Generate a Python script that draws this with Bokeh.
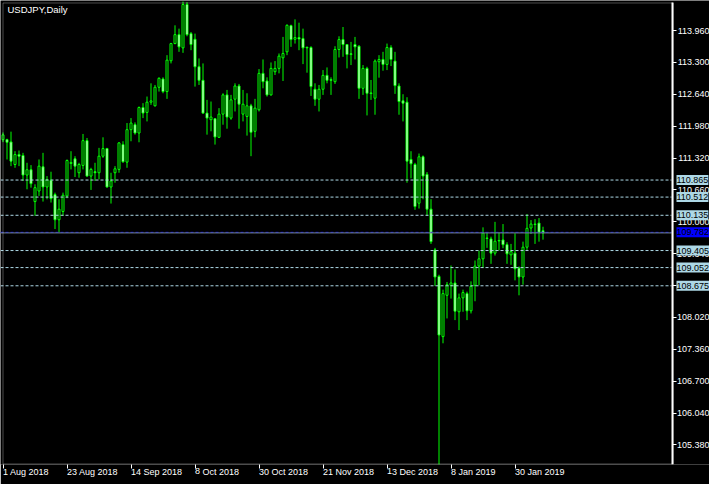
from bokeh.plotting import figure
from bokeh.models import Range1d, FixedTicker, Label, PrintfTickFormatter, BoxAnnotation
from bokeh.embed import file_html
from bokeh.resources import INLINE

# ---- data ----
title_text = "USDJPY,Daily"

opens = [111.70, 111.702, 111.654, 111.187, 111.393, 111.373, 110.968, 111.078, 110.419, 110.638,
         111.139, 110.721, 110.858, 110.563, 110.042, 110.214, 110.536, 111.208, 111.304, 111.016,
         111.167, 111.681, 110.947, 111.037, 111.016, 111.359, 111.517, 110.721, 111.016, 111.085,
         111.599, 111.236, 111.908, 112.011, 111.839, 112.367, 112.265, 112.477, 112.402, 112.786,
         112.957, 112.697, 113.335, 113.691, 113.876, 113.602, 114.501, 113.897, 113.780, 113.211,
         112.930, 112.251, 112.114, 112.134, 111.750, 112.230, 112.628, 112.148, 112.539, 112.813,
         112.230, 112.182, 112.402, 111.874, 112.320, 113.074, 112.916, 112.628, 113.108, 113.177,
         113.396, 113.520, 114.062, 113.780, 113.815, 113.794, 113.616, 113.609, 112.745, 112.539,
         112.745, 113.033, 112.944, 112.902, 113.568, 113.774, 113.671, 113.479, 113.671, 113.636,
         112.765, 113.177, 112.669, 112.560, 113.314, 113.362, 113.259, 113.609, 113.328, 112.813,
         112.505, 112.477, 111.291, 111.187, 110.385, 111.346, 110.982, 110.262, 109.418, 108.869,
         107.622, 108.478, 108.684, 108.733, 108.137, 108.425, 108.513, 108.157, 108.684, 109.083,
         109.233, 109.665, 109.645, 109.351, 109.614, 109.624, 109.527, 109.316, 109.351, 109.042,
         108.857, 109.474, 109.871, 109.953, 109.974, 109.816]
highs = [111.85, 111.72, 111.867, 111.462, 111.476, 111.428, 111.222, 111.174, 110.776, 111.291,
         111.428, 110.947, 111.037, 110.604, 110.467, 110.604, 111.291, 111.462, 111.359, 111.222,
         111.819, 111.736, 111.119, 111.222, 111.531, 111.750, 111.531, 111.016, 111.153, 111.647,
         111.668, 112.045, 112.148, 112.059, 112.388, 112.457, 112.594, 112.868, 112.834, 112.992,
         112.992, 113.451, 113.705, 114.069, 114.000, 114.56, 114.549, 113.931, 113.897, 113.383,
         113.280, 112.525, 112.491, 112.148, 112.354, 112.662, 112.731, 112.628, 112.868, 112.855,
         112.731, 112.662, 112.443, 112.546, 113.163, 113.362, 112.992, 113.300, 113.328, 113.486,
         113.829, 114.089, 114.082, 114.192, 114.123, 114.000, 113.623, 113.636, 112.868, 112.834,
         113.142, 113.197, 112.992, 113.636, 113.842, 114.034, 113.678, 113.726, 113.829, 113.657,
         113.246, 113.211, 112.937, 113.362, 113.451, 113.520, 113.691, 113.657, 113.520, 112.868,
         112.642, 112.580, 111.462, 111.222, 111.414, 111.373, 111.030, 110.468, 109.460, 108.904,
         108.595, 108.754, 109.095, 109.013, 108.513, 108.595, 108.554, 108.766, 109.198, 109.404,
         109.885, 109.768, 109.692, 109.999, 109.783, 109.953, 109.577, 109.542, 109.762, 109.075,
         109.589, 110.159, 110.036, 110.056, 110.077, 109.898]
lows = [111.65, 111.291, 111.153, 111.119, 111.153, 110.845, 110.673, 110.707, 110.124, 110.536,
        110.419, 110.467, 110.399, 109.850, 109.782, 110.124, 110.488, 111.085, 110.927, 110.913,
        111.085, 110.934, 110.660, 110.845, 110.879, 111.325, 110.707, 110.378, 110.810, 111.016,
        111.222, 111.119, 111.668, 111.805, 111.647, 112.148, 112.079, 112.422, 112.388, 112.697,
        112.662, 112.546, 113.280, 113.678, 113.520, 113.499, 113.842, 113.554, 112.800, 112.834,
        112.237, 111.805, 111.874, 111.599, 111.736, 112.011, 111.928, 112.114, 112.285, 111.928,
        112.079, 111.785, 111.359, 111.750, 112.285, 112.765, 112.594, 112.614, 113.040, 113.074,
        112.916, 113.451, 113.623, 113.691, 113.554, 113.266, 113.088, 112.607, 112.402, 112.285,
        112.628, 112.868, 112.628, 112.855, 113.403, 113.417, 113.177, 113.246, 113.362, 112.546,
        112.628, 112.203, 112.525, 112.217, 112.985, 113.129, 113.142, 113.225, 112.649, 112.217,
        112.079, 110.810, 110.900, 110.248, 110.275, 110.467, 110.124, 109.542, 108.672, 104.73,
        107.484, 107.999, 108.410, 107.964, 107.758, 108.137, 107.964, 108.102, 108.355, 108.684,
        109.042, 109.460, 109.130, 109.301, 109.404, 109.453, 109.130, 109.110, 108.787, 108.478,
        108.698, 109.418, 109.748, 109.542, 109.589, 109.630]
closes = [111.80, 111.647, 111.256, 111.393, 111.359, 110.968, 111.078, 110.790, 110.707, 111.153,
          110.721, 110.872, 110.481, 110.042, 110.261, 110.550, 111.270, 111.229, 111.153, 111.187,
          111.681, 110.947, 111.085, 111.016, 111.359, 111.517, 110.721, 110.845, 111.098, 111.634,
          111.243, 111.908, 112.045, 111.839, 112.367, 112.251, 112.477, 112.505, 112.786, 112.971,
          112.697, 113.348, 113.691, 113.876, 113.623, 114.50, 113.876, 113.671, 113.211, 112.930,
          112.251, 112.148, 112.169, 111.757, 112.230, 112.628, 112.169, 112.525, 112.813, 112.436,
          112.436, 112.402, 111.853, 112.354, 113.074, 112.902, 112.628, 113.177, 113.177, 113.431,
          113.486, 114.069, 113.774, 113.815, 113.787, 113.602, 113.602, 112.800, 112.539, 112.745,
          113.033, 112.930, 112.930, 113.568, 113.774, 113.671, 113.465, 113.465, 113.623, 112.765,
          113.177, 112.662, 112.656, 113.328, 113.362, 113.259, 113.609, 113.362, 112.820, 112.491,
          112.457, 111.256, 111.201, 110.317, 111.346, 110.947, 110.261, 109.589, 108.857, 107.655,
          108.513, 108.698, 108.733, 108.149, 108.425, 108.534, 108.157, 108.663, 109.083, 109.233,
          109.768, 109.655, 109.351, 109.597, 109.604, 109.527, 109.336, 109.383, 109.027, 108.857,
          109.474, 109.865, 109.953, 109.943, 109.783, 109.770]

date_tick_idx = [0, 16, 32, 48, 64, 80, 96, 112, 128]
date_labels = ["1 Aug 2018", "23 Aug 2018", "14 Sep 2018", "8 Oct 2018", "30 Oct 2018",
               "21 Nov 2018", "13 Dec 2018", "8 Jan 2019", "30 Jan 2019"]
price_ticks = [113.96, 113.30, 112.64, 111.98, 111.32, 110.66, 110.00,
               109.34, 108.68, 108.02, 107.36, 106.70, 106.04, 105.38]
levels = [110.865, 110.512, 110.135, 109.405, 109.052, 108.675]
pivot_level = 109.782

# ---- layout constants (pixels) ----
W, H = 709, 484
MB_B = 17
FRAME_H = H - MB_B
BAR0_PX, PX_PER_BAR = 2.5, 4.0       # horizontal mapping of bars
TOP_PRICE, PX_PER_YEN = 114.583, 48.6  # price at top edge of the frame, scale
x_start = -BAR0_PX / PX_PER_BAR
x_end = x_start + W / PX_PER_BAR
y_end = TOP_PRICE
y_start = TOP_PRICE - FRAME_H / PX_PER_YEN


def bx(px):
    return (px - BAR0_PX) / PX_PER_BAR


def py(pix):
    return TOP_PRICE - pix / PX_PER_YEN


AXIS_X = 672          # price-scale line position
FONT = "Liberation Sans"
FS = "9px"
LIME = "#00ff00"
LEVEL_C = "#add8e6"

p = figure(width=W, height=H, output_backend="svg", toolbar_location=None,
           x_range=Range1d(x_start, x_end), y_range=Range1d(y_start, y_end),
           y_axis_location="left",
           min_border_left=0, min_border_right=0, min_border_top=0, min_border_bottom=MB_B,
           background_fill_color="black", border_fill_color="black",
           outline_line_color=None)
p.grid.visible = False

# x axis (dates)
xa = p.xaxis[0]
xa.ticker = FixedTicker(ticks=date_tick_idx)
xa.major_label_overrides = {t: l for t, l in zip(date_tick_idx, date_labels)}
xa.major_label_orientation = -0.0001
xa.major_label_text_color = "white"
xa.major_label_text_font = FONT
xa.major_label_text_font_size = FS
xa.major_label_standoff = 3
xa.major_tick_out = 4
xa.major_tick_in = 0
xa.minor_tick_out = 0
xa.minor_tick_in = 0
xa.major_tick_line_color = "white"
xa.axis_line_color = None

# price axis: ticks and labels drawn at the right of the chart area (AXIS_X)
ya = p.yaxis[0]
ya.ticker = FixedTicker(ticks=price_ticks)
ya.formatter = PrintfTickFormatter(format="%.3f")
ya.major_label_text_color = "white"
ya.major_label_text_font = FONT
ya.major_label_text_font_size = FS
ya.major_tick_in = AXIS_X
ya.major_tick_out = -(AXIS_X + 4)
ya.major_label_standoff = -(W)
ya.minor_tick_out = 0
ya.minor_tick_in = 0
ya.major_tick_line_color = "white"
ya.axis_line_color = None

# ---- candles ----
idx = list(range(len(opens)))
bull = [i for i in idx if closes[i] >= opens[i]]
bear = [i for i in idx if closes[i] < opens[i]]

p.segment(x0=idx, y0=lows, x1=idx, y1=highs, line_color=LIME, line_width=1)
p.vbar(x=bull, bottom=[opens[i] for i in bull], top=[closes[i] for i in bull],
       width=0.5, fill_color="black", line_color=LIME, line_width=1)
p.vbar(x=bear, top=[opens[i] for i in bear], bottom=[closes[i] for i in bear],
       width=0.5, fill_color="white", line_color=LIME, line_width=1)

# ---- horizontal levels ----
n = len(levels)
p.segment(x0=[x_start] * n, x1=[bx(AXIS_X - 1)] * n, y0=levels, y1=levels,
          line_color=LEVEL_C, line_dash="3 2", line_width=1)
p.segment(x0=[x_start], x1=[bx(AXIS_X - 1)], y0=[pivot_level], y1=[pivot_level],
          line_color="#0000ff", line_dash="3 2", line_width=1)
p.segment(x0=[x_start], x1=[bx(AXIS_X - 1)], y0=[closes[-1]], y1=[closes[-1]],
          line_color="#778899", line_width=1)

# ---- chart frame lines ----
p.add_layout(BoxAnnotation(left=bx(2.5), right=bx(AXIS_X + 0.5), top=py(2.5), bottom=py(FRAME_H - 0.5),
                           fill_alpha=0, line_color="white", line_width=1))
p.segment(x0=[bx(AXIS_X)], x1=[bx(AXIS_X)], y0=[py(2)], y1=[py(FRAME_H)],
          line_color="white", line_width=2)

# ---- level labels ----
lab_x = bx(AXIS_X + 4)
for lv in levels:
    p.add_layout(Label(x=lab_x, y=lv, text=f"{lv:.3f}", text_font=FONT, text_font_size=FS,
                       text_color="black", text_baseline="middle", text_align="left",
                       background_fill_color=LEVEL_C, padding=(0, 2)))
p.add_layout(Label(x=lab_x, y=pivot_level, text=f"{pivot_level:.3f}", text_font=FONT,
                   text_font_size=FS, text_color="black", text_baseline="middle",
                   text_align="left", background_fill_color="#0000ff", padding=(0, 2)))

# ---- title ----
p.add_layout(Label(x=bx(7), y=py(3.2), text=title_text,
                   text_font=FONT, text_font_size="9.5px", text_color="white",
                   text_baseline="top", text_align="left"))

open("out.html", "w").write(file_html(p, INLINE))
